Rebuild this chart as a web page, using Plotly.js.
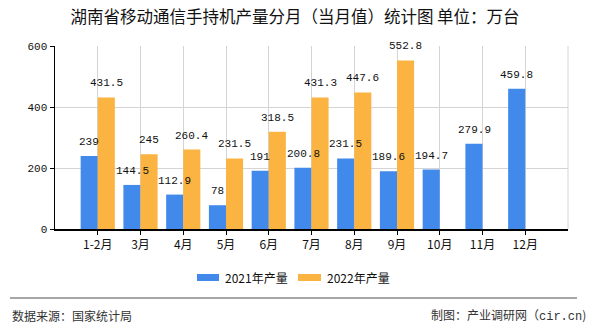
<!DOCTYPE html>
<html><head><meta charset="utf-8">
<script src="https://cdn.plot.ly/plotly-3.0.1.min.js"></script>
<style>html,body{margin:0;padding:0;background:#fff}#c{width:590px;height:330px}</style>
</head><body><div id="c"></div>
<script>
var categories = ["1-2月","3月","4月","5月","6月","7月","8月","9月","10月","11月","12月"];
var values2021 = [239,144.5,112.9,78,191,200.8,231.5,189.6,194.7,279.9,459.8];
var values2022 = [431.5,245,260.4,231.5,318.5,431.3,447.6,552.8,null,null,null];
var yTicks = [0,200,400,600];
var seriesNames = ["2021年产量","2022年产量"];
var colors = ["#418AEB","#FBB442"];

var mono = "Liberation Mono, DejaVu Sans Mono, monospace";
var labelFont = {family:mono, size:11, color:"#111"};
var cjk = "Noto Sans CJK SC, sans-serif";

var traces = [
  {type:"bar", name:seriesNames[0], x:categories, y:values2021, marker:{color:colors[0]}, hoverinfo:"none"},
  {type:"bar", name:seriesNames[1], x:categories, y:values2022, marker:{color:colors[1]}, hoverinfo:"none"}
];

var annotations = [];
[values2021, values2022].forEach(function(vals, si){
  vals.forEach(function(v, i){
    if (v === null) return;
    annotations.push({x:categories[i], y:v, xref:"x", yref:"y", text:String(v), showarrow:false,
      xanchor:"center", yanchor:"bottom", xshift: si===0 ? -8.5 : 8.5, yshift:6, font:labelFont});
  });
});
// manual legend
var legendRects = [[0.2768,0.3197],[0.4737,0.5185]];
var shapes = [
  {type:"line", xref:"paper", yref:"paper", x0:1, x1:1, y0:0, y1:1, line:{color:"#d4d4d4", width:1}},
  {type:"line", xref:"paper", yref:"paper", x0:-0.0877, x1:1.0175, y0:-0.377, y1:-0.377, line:{color:"#888", width:1.5}}
];
seriesNames.forEach(function(n, i){
  shapes.push({type:"rect", xref:"paper", yref:"paper", x0:legendRects[i][0], x1:legendRects[i][1],
    y0:-0.2842, y1:-0.2459, fillcolor:colors[i], line:{width:0}});
  annotations.push({xref:"paper", yref:"paper", x:legendRects[i][1]+0.0078, xanchor:"left", y:-0.265, yanchor:"middle",
    showarrow:false, text:n, font:{family:cjk, size:12, color:"#111"}});
});
annotations.push({xref:"paper", yref:"paper", x:-0.088, xanchor:"left", y:0, yanchor:"middle", yshift:-86, showarrow:false,
  text:"数据来源：国家统计局", font:{family:cjk, size:12, color:"#333"}});
annotations.push({xref:"paper", yref:"paper", x:1.039, xanchor:"right", y:0, yanchor:"middle", yshift:-86, showarrow:false,
  text:"制图：产业调研网（<span style=\"font-family:Liberation Mono, monospace\">cir.cn</span>)", font:{family:cjk, size:12, color:"#333"}});

var layout = {
  width:590, height:330,
  margin:{l:55, r:22, t:46, b:101},
  paper_bgcolor:"#fff", plot_bgcolor:"#fff",
  title:{text:"湖南省移动通信手持机产量分月（当月值）统计图 单位：万台", xref:"container", x:0.5, xanchor:"center",
    yref:"container", y:0.948, yanchor:"middle", font:{family:cjk, size:16.5, color:"#111"}},
  barmode:"group", bargap:0.2, bargroupgap:0,
  showlegend:false,
  xaxis:{type:"category", range:[-1,11], showgrid:true, gridcolor:"#d4d4d4", gridwidth:1,
    showline:true, linecolor:"#000", linewidth:1.5, ticks:"outside", ticklen:4, tickcolor:"#000",
    tickfont:{family:cjk, size:12, color:"#111"}, fixedrange:true, zeroline:false},
  yaxis:{range:[0,600], tickvals:yTicks, ticktext:yTicks.map(String), showgrid:true, gridcolor:"#d4d4d4",
    showline:true, linecolor:"#000", linewidth:1.5, ticks:"outside", ticklen:4, tickcolor:"#000",
    tickfont:{family:mono, size:11, color:"#111"}, zeroline:false, fixedrange:true},
  shapes:shapes,
  annotations:annotations
};
Plotly.newPlot("c", traces, layout, {staticPlot:true, displayModeBar:false});
</script></body></html>
